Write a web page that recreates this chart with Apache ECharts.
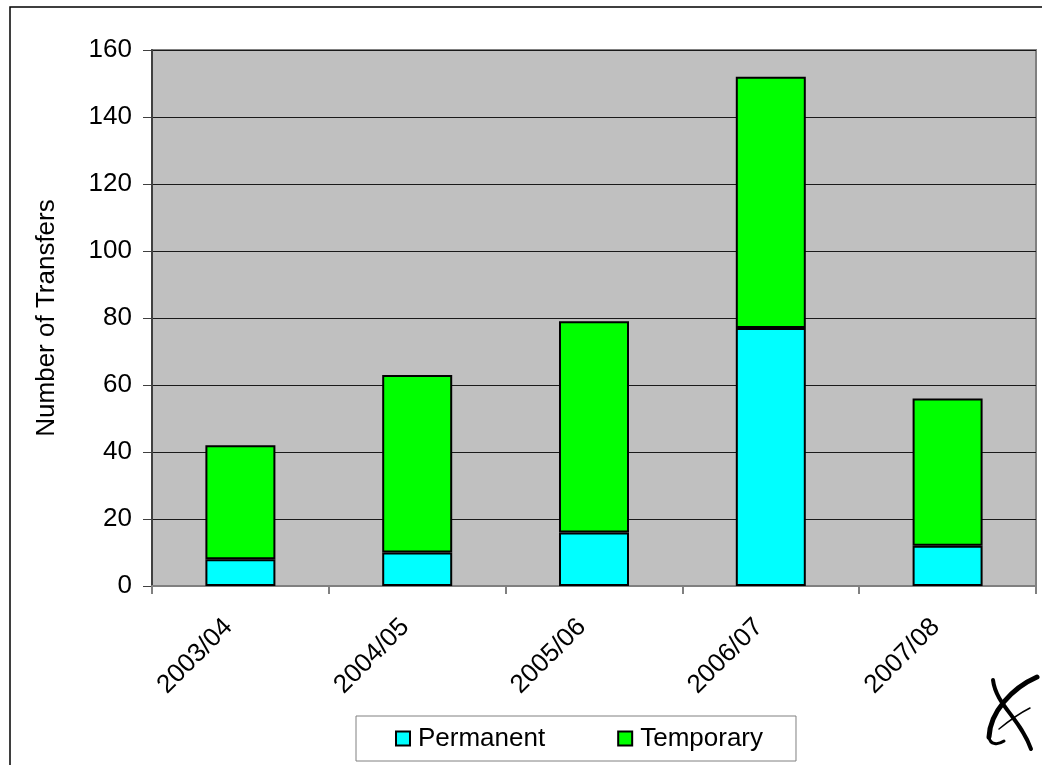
<!DOCTYPE html>
<html>
<head>
<meta charset="utf-8">
<style>
  html, body { margin: 0; padding: 0; background: #ffffff; }
  #chart { width: 1042px; height: 765px; }
</style>
<script src="https://cdn.jsdelivr.net/npm/echarts@6/dist/echarts.min.js"></script>
</head>
<body>
<div id="chart"></div>
<script>
// Transfers per season, split by type
const seasons = ['2003/04', '2004/05', '2005/06', '2006/07', '2007/08'];
const permanent = [8, 10, 16, 77, 12];
const temporary = [34, 53, 63, 75, 44];
const yTicks = { min: 0, max: 160, interval: 20 };

const FONT = '"Liberation Sans", Arial, sans-serif';
const chart = echarts.init(document.getElementById('chart'), null, { renderer: 'canvas' });

const barStyle = (color) => ({ color: color, borderColor: '#000000', borderWidth: 2 });

// logo strokes (absolute page coordinates)
const logoStroke = (x1, y1, cx1, cy1, cx2, cy2, x2, y2, w) => ({
  type: 'bezierCurve', silent: true, z: 10,
  shape: { x1: x1, y1: y1, cpx1: cx1, cpy1: cy1, cpx2: cx2, cpy2: cy2, x2: x2, y2: y2 },
  style: { stroke: '#000000', lineWidth: w, lineCap: 'round', fill: null }
});

chart.setOption({
  backgroundColor: '#ffffff',
  animation: false,
  textStyle: { fontFamily: FONT },
  grid: { left: 152, top: 50, width: 884, height: 536, containLabel: false,
          show: true, backgroundColor: '#c0c0c0', borderColor: '#808080', borderWidth: 2 },
  legend: {
    left: 356, top: 716,
    padding: [8, 33, 8, 39],
    borderColor: '#808080', borderWidth: 1,
    itemWidth: 14, itemHeight: 14, itemGap: 72,
    icon: 'rect',
    textStyle: { fontFamily: FONT, fontSize: 26, lineHeight: 29, color: '#000000', padding: [0, 0, 0, 3] },
    data: ['Permanent', 'Temporary']
  },
  xAxis: {
    type: 'category',
    data: seasons,
    boundaryGap: true,
    axisLine: { show: true, lineStyle: { color: '#808080', width: 2 } },
    axisTick: { show: true, alignWithLabel: false, length: 8, lineStyle: { color: '#808080', width: 2 } },
    axisLabel: { rotate: 45, margin: 25, fontFamily: FONT, fontSize: 26, color: '#000000',
                 padding: [0, 17, 14, 0] },
    splitLine: { show: false }
  },
  yAxis: {
    type: 'value',
    min: yTicks.min, max: yTicks.max, interval: yTicks.interval,
    name: 'Number of Transfers',
    nameLocation: 'middle',
    nameGap: 92,
    nameRotate: 90,
    nameTextStyle: { fontFamily: FONT, fontSize: 26, color: '#000000' },
    axisLine: { show: true, lineStyle: { color: '#404040', width: 2 } },
    axisTick: { show: true, inside: false, length: 9, lineStyle: { color: '#404040', width: 1 } },
    axisLabel: { margin: 20, fontFamily: FONT, fontSize: 26, color: '#000000' },
    splitLine: { show: true, lineStyle: { color: '#1a1a1a', width: 1 } }
  },
  series: [
    { name: 'Permanent', type: 'bar', stack: 'total', data: permanent,
      barWidth: 70, itemStyle: barStyle('#00ffff') },
    { name: 'Temporary', type: 'bar', stack: 'total', data: temporary,
      barWidth: 70, itemStyle: barStyle('#00ff00') }
  ],
  graphic: [
    // outer chart frame
    { type: 'rect', silent: true, z: -1, x: 10, y: 7,
      shape: { x: 0, y: 0, width: 1060, height: 800 },
      style: { fill: null, stroke: '#000000', lineWidth: 1.5 } },
    // logo mark, bottom right
    logoStroke(1037, 677, 1012, 688, 990, 712, 989, 737, 5),
    logoStroke(989, 737, 990, 745, 998, 745, 1004, 741, 3),
    logoStroke(993, 680, 996, 705, 1020, 718, 1031, 749, 4),
    logoStroke(999, 729, 1010, 720, 1020, 713, 1030, 708, 1.5)
  ]
});
</script>
</body>
</html>
